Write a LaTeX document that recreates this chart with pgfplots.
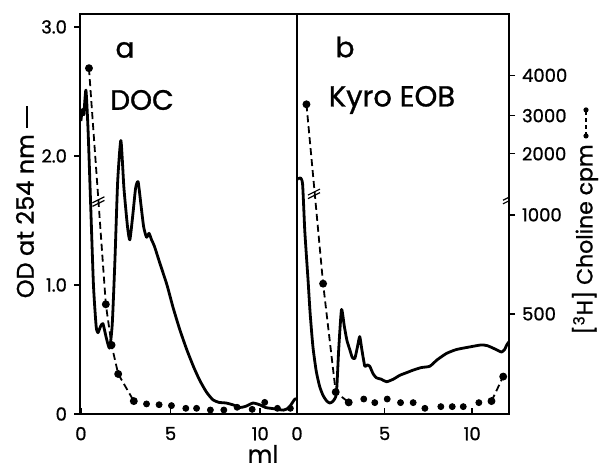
\documentclass[border=0pt]{standalone}
\usepackage{pgfplots}
\pgfplotsset{compat=1.18}
\usepackage{fontspec}
\setmainfont{Poppins}[FakeBold=1]

\newsavebox\odkey
\newsavebox\cpmkey

\pgfplotsset{
  panel/.style={
    scale only axis,
    anchor=south west,
    height=200pt,
    ymin=0, ymax=3.10,
    xtick={0,5,10},
    xtick pos=bottom,
    tick align=outside,
    major tick length=3pt,
    xtick style={yshift=3pt},
    axis line style={line width=0.75pt},
    every tick/.style={black, line width=0.75pt},
    tick label style={font=\fontsize{9}{10}\selectfont},
    /pgf/number format/assume math mode=true,
  },
  od/.style={black, line width=1.4pt, line join=round, smooth, tension=0.35, mark=none},
  cpm/.style={black, line width=0.9pt, dash pattern=on 3.5pt off 2pt,
    mark=*, mark size=1.5pt, mark options={solid}},
  cpmdots/.style={black, only marks, mark=*, mark size=1.5pt},
}

\begin{document}%
\sbox\odkey{\raisebox{0.3em}{\rule{1.1em}{0.9pt}}}%
\sbox\cpmkey{\tikz[baseline=-0.32em]{\draw[line width=0.7pt, dash pattern=on 2pt off 1.5pt] (0,0)--(1.3em,0);%
  \fill (0,0) circle (1.3pt); \fill (1.3em,0) circle (1.3pt);}}%
\begin{tikzpicture}
\useasboundingbox (0,0) rectangle (300pt,235pt);

% panel a: DOC
\begin{axis}[panel, at={(40pt,28pt)}, width=108.5pt,
  xmin=-0.05, xmax=12.05,
  ytick={0,1,2,3}, yticklabels={0,1.0,2.0,3.0}, ytick pos=left]
\addplot[od] coordinates {
 (0.00,2.27) (0.08,2.36) (0.16,2.32) (0.28,2.51) (0.40,2.20) (0.55,1.60)
 (0.70,1.00) (0.85,0.68) (0.95,0.63) (1.10,0.68) (1.23,0.70) (1.40,0.60)
 (1.60,0.51) (1.75,0.70) (1.90,1.20) (2.05,1.80) (2.23,2.12) (2.40,1.75)
 (2.60,1.45) (2.73,1.35) (2.90,1.55) (3.05,1.75) (3.19,1.80) (3.35,1.62)
 (3.50,1.45) (3.66,1.37) (3.80,1.40) (3.94,1.35) (4.10,1.30) (4.40,1.17)
 (4.80,1.00) (5.13,0.83) (5.50,0.66) (5.90,0.50) (6.30,0.36) (6.63,0.26)
 (7.00,0.17) (7.36,0.11) (7.70,0.09) (8.10,0.085) (8.50,0.07) (8.86,0.05)
 (9.20,0.06) (9.60,0.085) (10.00,0.07) (10.30,0.05) (10.80,0.04) (11.30,0.03)
 (11.60,0.05) (11.90,0.11) (12.00,0.12)
};
\addplot[cpm] coordinates {
 (0.45,2.68) (1.39,0.85) (1.71,0.535) (2.08,0.31) (2.95,0.10)
};
\addplot[cpmdots] coordinates {
 (3.66,0.078) (4.36,0.072) (5.05,0.065) (5.85,0.044) (6.45,0.044) (7.22,0.031)
 (7.97,0.031) (8.71,0.052) (9.55,0.036) (10.25,0.09) (10.96,0.044) (11.68,0.044)
};
% axis break on the cpm line
\draw[line width=0.6pt] ([xshift=-3pt,yshift=-1.5pt]axis cs:0.98,1.66) -- ++(6pt,3pt);
\draw[line width=0.6pt] ([xshift=-3pt,yshift=-3.3pt]axis cs:0.98,1.66) -- ++(6pt,3pt);
\end{axis}

% panel b: Kyro EOB, right axis in cpm
\begin{axis}[panel, at={(148.5pt,28pt)}, width=106pt,
  xmin=0, xmax=12.1,
  ytick={0.776,1.544,2.017,2.312,2.625},
  yticklabels={500,1000,2000,3000,4000},
  ytick pos=right, yticklabel pos=right]
\addplot[od] coordinates {
 (0.05,1.82) (0.20,1.83) (0.32,1.78) (0.44,1.43) (0.55,1.20) (0.63,1.04)
 (0.75,0.78) (0.91,0.52) (1.10,0.33) (1.30,0.21) (1.50,0.14) (1.70,0.10)
 (1.87,0.085) (2.06,0.10) (2.25,0.16) (2.38,0.50) (2.54,0.81) (2.70,0.68)
 (2.85,0.57) (3.01,0.50) (3.15,0.44) (3.30,0.43) (3.45,0.52) (3.58,0.60)
 (3.70,0.50) (3.87,0.37) (4.00,0.38) (4.15,0.37) (4.35,0.31) (4.54,0.28)
 (4.80,0.27) (5.11,0.25) (5.50,0.27) (5.87,0.30) (6.25,0.32) (6.63,0.34)
 (7.10,0.36) (7.58,0.37) (8.00,0.42) (8.54,0.47) (9.11,0.50) (9.87,0.52)
 (10.50,0.535) (10.85,0.53) (11.20,0.51) (11.50,0.49) (11.68,0.48) (11.85,0.50)
 (11.97,0.535) (12.10,0.56)
};
\addplot[cpm] coordinates {
 (0.54,2.40) (1.49,1.01) (2.21,0.17) (2.95,0.09)
};
\addplot[cpmdots] coordinates {
 (3.81,0.116) (4.44,0.088) (5.15,0.116) (5.91,0.088) (6.63,0.088) (7.30,0.044)
 (8.21,0.057) (8.86,0.057) (9.49,0.057) (10.38,0.088)
};
\addplot[cpm] coordinates {
 (11.10,0.10) (11.77,0.29)
};
% axis breaks
\draw[line width=0.6pt] ([xshift=-3pt,yshift=-1.5pt]axis cs:0.97,1.72) -- ++(6pt,3pt);
\draw[line width=0.6pt] ([xshift=-3pt,yshift=-3.3pt]axis cs:0.97,1.72) -- ++(6pt,3pt);
\draw[line width=0.6pt] ([xshift=-3pt,yshift=-1.5pt]axis cs:12.1,1.68) -- ++(6pt,3pt);
\draw[line width=0.6pt] ([xshift=-3pt,yshift=-3.3pt]axis cs:12.1,1.68) -- ++(6pt,3pt);
\end{axis}

% panel letters and titles
\node[font=\fontsize{14}{16}\selectfont] at (62.5pt,210pt) {a};
\node[font=\fontsize{14}{16}\selectfont] at (71pt,185pt) {DOC};
\node[font=\fontsize{14}{16}\selectfont] at (172.5pt,211.5pt) {b};
\node[font=\fontsize{14.5}{16}\selectfont] at (196pt,185pt) {Kyro EOB};

% axis titles
\node[inner sep=0pt, font=\fontsize{12}{14}\selectfont] at (131.5pt,8pt) {ml};
\node[inner sep=0pt, font=\fontsize{12}{14}\selectfont, rotate=90] at (12.5pt,134pt) {OD at 254 nm \usebox\odkey};
\node[inner sep=0pt, font=\fontsize{11}{13}\selectfont, rotate=90] at (292.5pt,124.5pt)
  {[\textsuperscript{3}H] Choline cpm \usebox\cpmkey};
\end{tikzpicture}%
\end{document}
